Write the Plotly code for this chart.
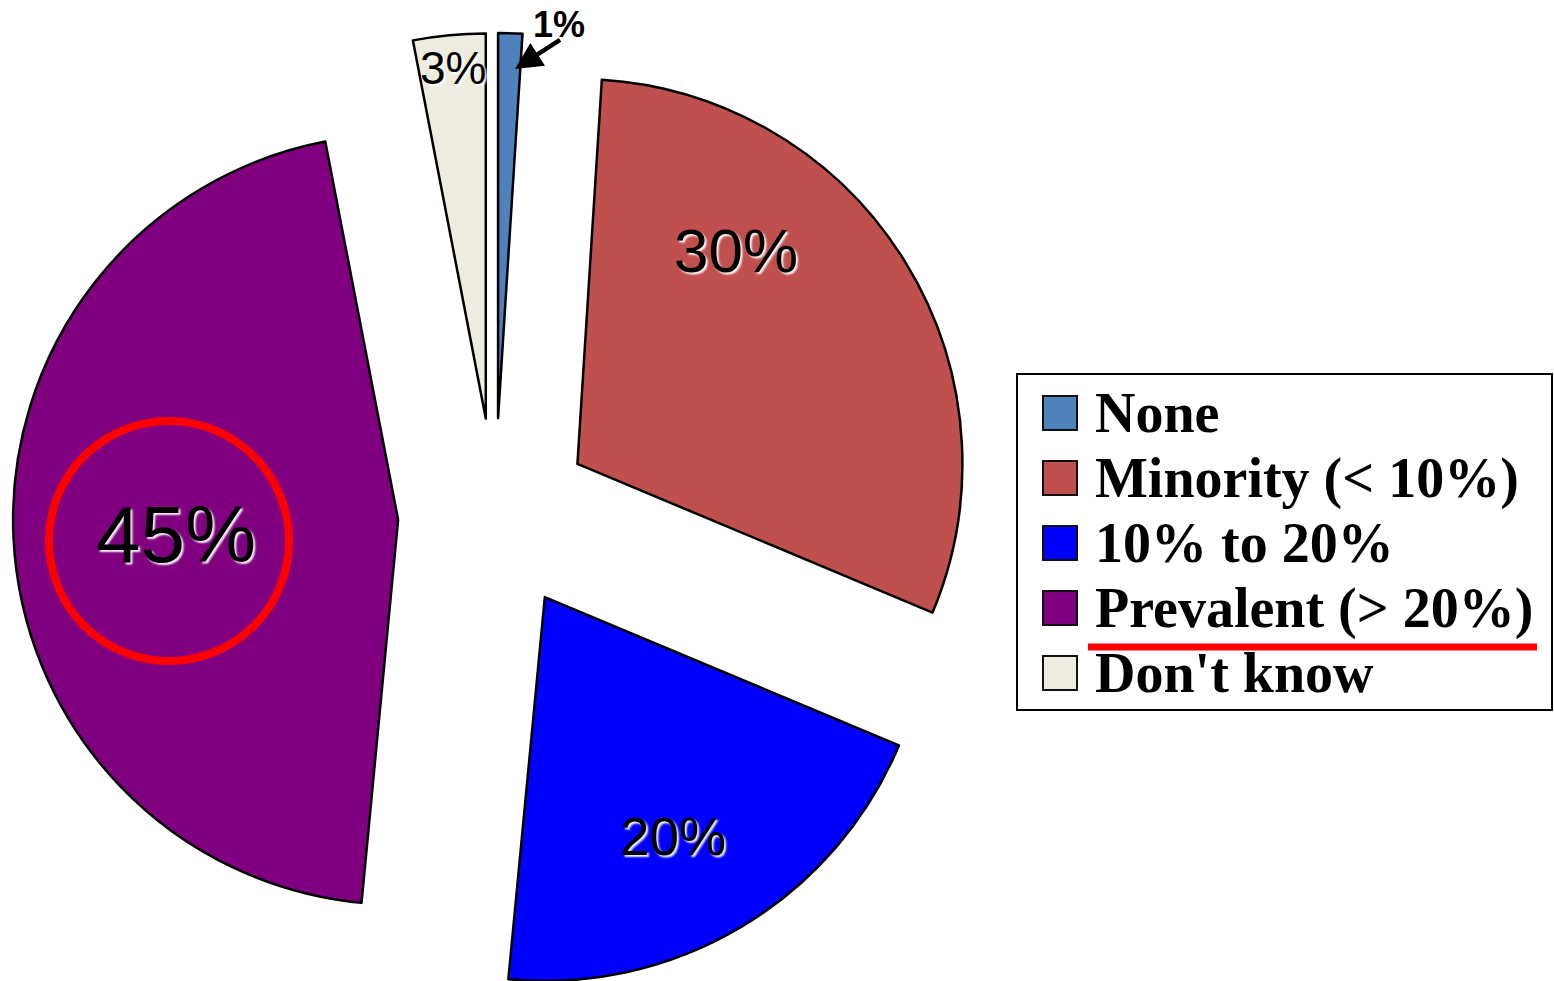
import math
import plotly.graph_objects as go

# ---- data ----
LABELS = ["None", "Minority (< 10%)", "10% to 20%", "Prevalent (> 20%)", "Don't know"]
VALUES = [1, 30, 20, 45, 3]
COLORS = ["#4F81BD", "#C0504D", "#0000FF", "#800080", "#EEECE1"]

# ---- layout / style ----
W, H = 1554, 981
CX, CY = 495, 515      # original pie centre (px)
PULL = 97              # explosion distance (px)
R = 385                # radius (px)
TEXT_POS = [(559, 25), (736, 251), (673, 836), (176, 534), (453, 68)]
TEXT_SIZE = [36, 62, 53, 80, 46]


def px(x):
    return x / W


def py(y):
    return 1 - y / H


fig = go.Figure()
total = sum(VALUES)
cum = 0
for i, v in enumerate(VALUES):
    mid = (cum + v / 2) / total * 2 * math.pi
    cum += v
    ax = CX + PULL * math.sin(mid)
    ay = CY - PULL * math.cos(mid)
    dx = [max(0, (ax - R) / W), min(1, (ax + R) / W)]
    dy = [max(0, 1 - (ay + R) / H), min(1, 1 - (ay - R) / H)]
    cols = [COLORS[j] if j == i else "rgba(0,0,0,0)" for j in range(len(VALUES))]
    widths = [2.5 if j == i else 0 for j in range(len(VALUES))]
    fig.add_trace(go.Pie(
        labels=LABELS, values=VALUES, sort=False, direction="clockwise", rotation=0,
        marker=dict(colors=cols, line=dict(color="black", width=widths)),
        textinfo="none", hoverinfo="label+value", showlegend=False,
        domain=dict(x=dx, y=dy),
    ))

annotations = []
shapes = []
for i, v in enumerate(VALUES):
    x, y = TEXT_POS[i]
    if i == 0:
        annotations.append(dict(
            x=px(515), y=py(69), xref="paper", yref="paper",
            ax=48, ay=-31, axref="pixel", ayref="pixel",
            text=" ", showarrow=True, arrowhead=2, arrowsize=1.2,
            arrowwidth=4.5, arrowcolor="black", standoff=0,
        ))
        annotations.append(dict(
            x=px(x), y=py(y), xref="paper", yref="paper", showarrow=False,
            xanchor="center", yanchor="middle", text=f"<b>{v}%</b>",
            font=dict(family="Liberation Sans", size=TEXT_SIZE[i], color="black"),
        ))
    else:
        annotations.append(dict(
            x=px(x), y=py(y), xref="paper", yref="paper", showarrow=False,
            xanchor="center", yanchor="middle", text=f"{v}%",
            font=dict(family="Liberation Sans", size=TEXT_SIZE[i], color="black",
                      shadow="2px 2px 2px rgba(255,255,255,0.95)"),
        ))

# legend (manual)
LEG_X0, LEG_Y0, LEG_X1, LEG_Y1 = 1017, 374, 1552, 710
shapes.append(dict(type="rect", xref="paper", yref="paper",
                   x0=px(LEG_X0), x1=px(LEG_X1), y0=py(LEG_Y1), y1=py(LEG_Y0),
                   line=dict(color="black", width=2), fillcolor="white", layer="below"))
ROW_Y = [413, 478, 543, 608, 673]
for i, lab in enumerate(LABELS):
    yc = ROW_Y[i]
    shapes.append(dict(type="rect", xref="paper", yref="paper",
                       x0=px(1043), x1=px(1077), y0=py(yc + 17), y1=py(yc - 17),
                       fillcolor=COLORS[i], line=dict(color="#101010", width=2)))
    annotations.append(dict(
        x=px(1093), y=py(yc), xref="paper", yref="paper", showarrow=False,
        xanchor="left", yanchor="middle", text=f"<b>{lab}</b>",
        font=dict(family="Liberation Serif", size=56, color="black"),
    ))

# highlight marks
shapes.append(dict(type="line", xref="paper", yref="paper",
                   x0=px(1088), x1=px(1537), y0=py(647), y1=py(647),
                   line=dict(color="#FF0000", width=7)))
shapes.append(dict(type="circle", xref="paper", yref="paper",
                   x0=px(169 - 120), x1=px(169 + 120), y0=py(541 + 120), y1=py(541 - 120),
                   line=dict(color="#FF0000", width=8)))

fig.update_layout(
    width=W, height=H, margin=dict(l=0, r=0, t=0, b=0),
    paper_bgcolor="white", plot_bgcolor="white",
    annotations=annotations, shapes=shapes, showlegend=False,
)

fig.write_html("out.html")
